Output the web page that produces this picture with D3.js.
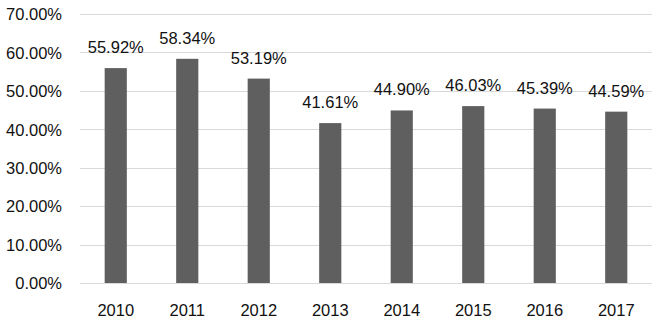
<!DOCTYPE html>
<html><head><meta charset="utf-8">
<script src="https://cdn.jsdelivr.net/npm/d3@7"></script>
<style>body{margin:0;background:#fff;}svg{display:block;font-family:"Liberation Sans",Arial,sans-serif;}</style>
</head><body>
<script>
const years = ["2010","2011","2012","2013","2014","2015","2016","2017"];
const values = [55.92,58.34,53.19,41.61,44.90,46.03,45.39,44.59];
const yTicks = [0,10,20,30,40,50,60,70];

const W=661,H=324, m={left:80,right:9,top:14,bottom:41};
const svg=d3.select("body").append("svg").attr("width",W).attr("height",H);
const x=d3.scaleBand().domain(years).range([m.left,W-m.right]).paddingInner(0.69).paddingOuter(0.345);
const y=d3.scaleLinear().domain([0,70]).range([H-m.bottom,m.top]);

svg.append("g").selectAll("line").data(yTicks).join("line")
 .attr("x1",m.left).attr("x2",W-m.right).attr("y1",d=>Math.round(y(d))+0.5).attr("y2",d=>Math.round(y(d))+0.5)
 .attr("stroke","#d9d9d9").attr("stroke-width",1);

const ya=svg.append("g").attr("transform",`translate(${m.left-18},0)`)
 .call(d3.axisLeft(y).tickValues(yTicks).tickFormat(d=>d.toFixed(2)+"%").tickSize(0).tickPadding(0));
ya.select(".domain").remove();
ya.selectAll("text").attr("font-size",16.5).attr("fill","#111").attr("font-family","Liberation Sans, Arial, sans-serif").attr("dy","0.35em");

svg.append("g").selectAll("rect").data(values).join("rect")
 .attr("x",(d,i)=>x(years[i])).attr("width",x.bandwidth())
 .attr("y",d=>y(d)).attr("height",d=>y(0)-y(d)).attr("fill","#5f5f5f");

svg.append("g").selectAll("text").data(values).join("text")
 .attr("x",(d,i)=>x(years[i])+x.bandwidth()/2).attr("y",d=>y(d)-15)
 .attr("text-anchor","middle").attr("font-size",16.5).attr("fill","#111")
 .text(d=>d.toFixed(2)+"%");

const xa=svg.append("g").attr("transform",`translate(0,${H-m.bottom})`)
 .call(d3.axisBottom(x).tickSize(0).tickPadding(21));
xa.select(".domain").remove();
xa.selectAll("text").attr("font-size",16.5).attr("fill","#111").attr("font-family","Liberation Sans, Arial, sans-serif");
</script>
</body></html>
